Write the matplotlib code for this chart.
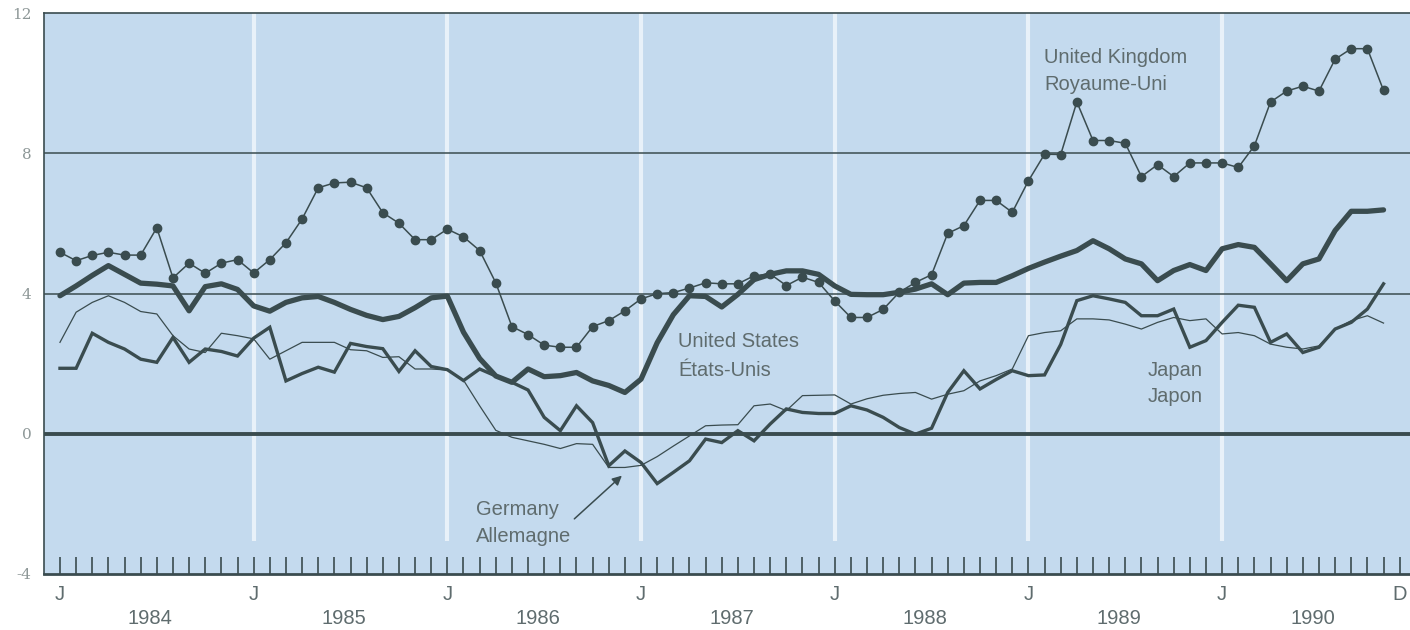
import numpy as np
import matplotlib.pyplot as plt

# monthly year-on-year consumer price changes, Jan 1984 .. Nov 1990
years = [1984, 1985, 1986, 1987, 1988, 1989, 1990]

uk = [5.18, 4.94, 5.09, 5.18, 5.10, 5.10, 5.88, 4.45, 4.87, 4.58, 4.87, 4.97,
      4.59, 4.97, 5.45, 6.13, 7.02, 7.16, 7.18, 7.02, 6.31, 6.01, 5.54, 5.54,
      5.84, 5.62, 5.23, 4.31, 3.06, 2.83, 2.53, 2.47, 2.47, 3.06, 3.23, 3.51,
      3.85, 4.00, 4.03, 4.16, 4.31, 4.28, 4.28, 4.51, 4.56, 4.23, 4.47, 4.32,
      3.79, 3.32, 3.32, 3.55, 4.04, 4.32, 4.54, 5.72, 5.94, 6.66, 6.66, 6.32,
      7.22, 7.98, 7.97, 9.47, 8.37, 8.37, 8.29, 7.34, 7.68, 7.34, 7.73, 7.73,
      7.73, 7.60, 8.22, 9.47, 9.78, 9.92, 9.78, 10.69, 10.99, 10.99, 9.80]

us = [3.94, 4.22, 4.52, 4.80, 4.55, 4.30, 4.27, 4.22, 3.51, 4.20, 4.28, 4.12,
      3.65, 3.50, 3.75, 3.88, 3.92, 3.75, 3.55, 3.38, 3.26, 3.35, 3.60, 3.88,
      3.93, 2.90, 2.15, 1.65, 1.47, 1.85, 1.63, 1.66, 1.75, 1.51, 1.38, 1.18,
      1.56, 2.60, 3.40, 3.94, 3.92, 3.62, 3.98, 4.40, 4.55, 4.65, 4.65, 4.55,
      4.22, 3.98, 3.97, 3.97, 4.04, 4.13, 4.28, 3.97, 4.30, 4.32, 4.32, 4.51,
      4.72, 4.90, 5.07, 5.23, 5.51, 5.28, 4.99, 4.85, 4.37, 4.66, 4.83, 4.66,
      5.28, 5.40, 5.32, 4.85, 4.37, 4.85, 4.99, 5.80, 6.35, 6.35, 6.39]

japan = [1.87, 1.87, 2.87, 2.61, 2.42, 2.13, 2.04, 2.75, 2.04, 2.42, 2.35, 2.22,
         2.73, 3.04, 1.51, 1.72, 1.90, 1.76, 2.58, 2.49, 2.43, 1.78, 2.37, 1.92,
         1.83, 1.52, 1.85, 1.65, 1.47, 1.25, 0.47, 0.09, 0.80, 0.32, -0.91, -0.49,
         -0.82, -1.42, -1.10, -0.77, -0.15, -0.25, 0.09, -0.20, 0.28, 0.71, 0.61, 0.58,
         0.58, 0.80, 0.68, 0.47, 0.18, -0.01, 0.16, 1.18, 1.80, 1.28, 1.55, 1.80,
         1.66, 1.68, 2.55, 3.80, 3.94, 3.85, 3.75, 3.37, 3.37, 3.56, 2.47, 2.66,
         3.18, 3.67, 3.61, 2.61, 2.85, 2.32, 2.47, 2.99, 3.18, 3.56, 4.28]

germany = [2.61, 3.47, 3.75, 3.94, 3.75, 3.49, 3.42, 2.80, 2.42, 2.32, 2.87, 2.80,
           2.71, 2.13, 2.37, 2.61, 2.61, 2.61, 2.40, 2.37, 2.18, 2.20, 1.85, 1.85,
           1.82, 1.53, 0.80, 0.10, -0.10, -0.20, -0.30, -0.42, -0.28, -0.30, -0.96, -0.96,
           -0.90, -0.65, -0.35, -0.06, 0.23, 0.25, 0.26, 0.80, 0.85, 0.66, 1.09, 1.10,
           1.11, 0.85, 1.00, 1.10, 1.15, 1.18, 0.99, 1.13, 1.23, 1.51, 1.66, 1.85,
           2.80, 2.89, 2.94, 3.28, 3.28, 3.25, 3.13, 2.99, 3.18, 3.32, 3.23, 3.28,
           2.85, 2.89, 2.80, 2.56, 2.47, 2.42, 2.51, 2.99, 3.23, 3.37, 3.16]

y_ticks = [-4, 0, 4, 8, 12]

INK = "#3a4c4f"
TEXT = "#5f6c6e"
PANEL = "#c4daee"

months = np.arange(len(uk))
n_months = 12 * len(years)

fig = plt.figure(figsize=(14.1, 6.3), dpi=100, facecolor="white")
ax = fig.add_axes([0.0312, 0.0889, 0.9688, 0.89])
ax.set_facecolor(PANEL)
ax.set_xlim(-0.99, 83.64)
ax.set_ylim(-4, 12)

# white year separators
ax.vlines(np.arange(12, n_months, 12), -3.05, 12, color="#e8f1f9", lw=3, zorder=1)

# reference lines
ax.axhline(8, color=INK, lw=1.1, zorder=2)
ax.axhline(4, color=INK, lw=1.1, zorder=2)
ax.axhline(0, color=INK, lw=2.8, zorder=2)

ax.plot(months, germany, color=INK, lw=0.9, zorder=3)
ax.plot(months, japan, color=INK, lw=2.4, solid_joinstyle="miter", zorder=4)
ax.plot(months, us, color=INK, lw=3.8, solid_joinstyle="round", solid_capstyle="round", zorder=5)
ax.plot(months, uk, color=INK, lw=1.1, marker="o", ms=6, zorder=6)

for side in ["right"]:
    ax.spines[side].set_visible(False)
for side in ["left", "top"]:
    ax.spines[side].set_color(INK)
    ax.spines[side].set_linewidth(1.2)
ax.spines["bottom"].set_color(INK)
ax.spines["bottom"].set_linewidth(2)

# month ticks inside, labels drawn separately
ax.set_xticks(np.arange(n_months))
ax.set_xticklabels([])
ax.tick_params(axis="x", direction="in", length=12, width=1.2, color=INK)

ax.set_yticks(y_ticks)
ax.set_yticklabels([str(v) for v in y_ticks], family="DejaVu Serif", fontsize=11, color="#8d9797")
ax.tick_params(axis="y", length=0, pad=9)

sans = "Liberation Sans"
xt = ax.get_xaxis_transform()
for i, yr in enumerate(years):
    ax.text(12 * i, -0.0464, "J", transform=xt, ha="center", va="baseline",
            fontsize=14.5, color=TEXT, family=sans)
    ax.text(12 * i + 5.6, -0.0892, str(yr), transform=xt, ha="center", va="baseline",
            fontsize=14.5, color=TEXT, family=sans)
ax.text(n_months - 1, -0.0464, "D", transform=xt, ha="center", va="baseline",
        fontsize=14.5, color=TEXT, family=sans)

# series labels
def label(x, y, txt):
    ax.text(x, y, txt, ha="left", va="baseline", fontsize=14.5, color=TEXT, family=sans, zorder=7)

label(60.96, 10.58, "United Kingdom")
label(60.96, 9.82, "Royaume-Uni")
label(38.3, 2.47, "United States")
label(38.3, 1.64, "États-Unis")
label(67.4, 1.66, "Japan")
label(67.4, 0.92, "Japon")
label(25.8, -2.33, "Germany")
label(25.8, -3.10, "Allemagne")

ax.annotate("", xy=(34.94, -1.14), xytext=(31.74, -2.48),
            arrowprops=dict(arrowstyle="-|>", color=INK, lw=1.1, mutation_scale=14), zorder=7)

fig.savefig("out.png", dpi=100, facecolor="white")
